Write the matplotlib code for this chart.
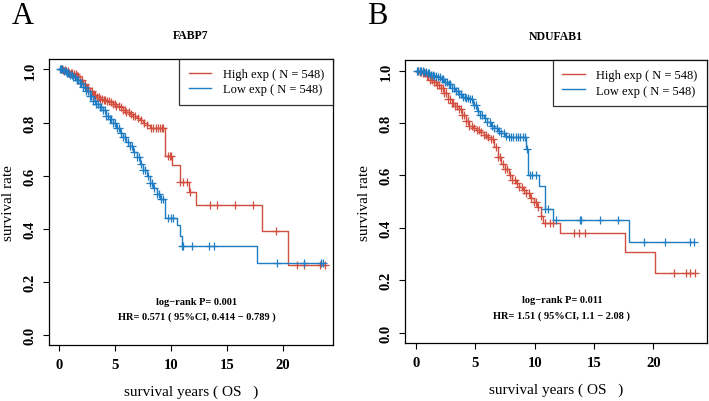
import matplotlib
matplotlib.use("Agg")
import matplotlib.pyplot as plt
import numpy as np

plt.rcParams['font.family'] = ['Liberation Serif', 'DejaVu Serif']

RED = '#d24f3f'
BLUE = '#1f7dc4'

# ---- Panel A : FABP7 ----
a_high_t = [0, 0.3, 0.6, 0.9, 1.2, 1.5, 1.8, 2.1, 2.4, 2.7, 3.0, 3.3, 3.6, 3.9, 4.2, 4.5,
            4.8, 5.1, 5.4, 5.7, 6.0, 6.3, 6.6, 6.9, 7.2, 7.5, 7.8, 8.1, 9.45, 10.1, 10.75,
            11.6, 12.2, 18.1, 20.45]
a_high_s = [1.0, 0.997, 0.993, 0.988, 0.982, 0.975, 0.962, 0.945, 0.93, 0.918, 0.905, 0.895,
            0.89, 0.886, 0.882, 0.877, 0.871, 0.864, 0.857, 0.848, 0.84, 0.833, 0.826, 0.818,
            0.81, 0.80, 0.792, 0.78, 0.672, 0.64, 0.574, 0.536, 0.487, 0.392, 0.262]
a_high_end = 23.8
a_high_cens = [0.1, 0.2, 0.35, 0.5, 0.6, 0.75, 0.9, 1.0, 1.15, 1.3, 1.45, 1.6, 1.7, 1.85, 2.0,
               2.15, 2.3, 2.45, 2.6, 2.75, 2.9, 3.05, 3.2, 3.35, 3.5, 3.65, 3.8, 3.95, 4.1, 4.3,
               4.45, 4.6, 4.8, 4.95, 5.1, 5.3, 5.5, 5.7, 5.85, 6.0, 6.2, 6.4, 6.6, 6.8, 7.0, 7.3,
               7.6, 7.8, 8.2, 8.4, 8.6, 8.8, 9.0, 9.2, 9.3, 9.7, 9.85, 10.0, 10.8, 11.1, 11.4,
               11.7, 13.5, 14.1, 15.7, 17.3, 19.4, 21.3, 21.9, 23.3, 23.8]

a_low_t = [0, 0.3, 0.6, 0.9, 1.2, 1.5, 1.8, 2.1, 2.4, 2.7, 3.0, 3.3, 3.6, 3.9, 4.2, 4.5, 4.8,
           5.1, 5.4, 5.7, 6.0, 6.3, 6.6, 6.9, 7.2, 7.5, 7.8, 8.1, 8.4, 8.7, 9.0, 9.45, 10.5,
           10.8, 10.95, 17.7]
a_low_s = [1.0, 0.995, 0.988, 0.98, 0.97, 0.96, 0.948, 0.933, 0.918, 0.90, 0.882, 0.868, 0.857,
           0.848, 0.825, 0.812, 0.797, 0.78, 0.762, 0.745, 0.728, 0.71, 0.69, 0.668, 0.645,
           0.62, 0.597, 0.573, 0.552, 0.532, 0.51, 0.44, 0.415, 0.37, 0.335, 0.27]
a_low_end = 23.6
a_low_cens = [0.05, 0.15, 0.25, 0.4, 0.55, 0.7, 0.8, 0.95, 1.1, 1.25, 1.4, 1.55, 1.7, 1.8, 1.95,
              2.1, 2.25, 2.4, 2.55, 2.7, 2.85, 3.0, 3.15, 3.3, 3.45, 3.6, 3.75, 3.9, 4.05, 4.2,
              4.35, 4.5, 4.65, 4.8, 5.0, 5.15, 5.3, 5.5, 5.7, 5.9, 6.1, 6.3, 6.5, 6.7, 6.9, 7.1,
              7.3, 7.5, 7.7, 7.9, 8.1, 8.3, 8.5, 8.7, 8.9, 9.1, 9.3, 9.7, 10.0, 10.2, 11.0,
              11.1, 11.9, 13.4, 13.8, 19.5, 21.9, 23.4, 23.6]

# ---- Panel B : NDUFAB1 ----
b_high_t = [0, 0.3, 0.6, 0.9, 1.2, 1.5, 1.8, 2.1, 2.4, 2.7, 3.0, 3.3, 3.6, 3.9, 4.2, 4.5, 4.8,
            5.1, 5.4, 5.7, 6.0, 6.3, 6.6, 6.9, 7.2, 7.5, 7.8, 8.1, 8.4, 8.7, 9.0, 9.3, 9.6,
            9.9, 10.2, 10.5, 10.7, 12.1, 17.6, 20.1]
b_high_s = [1.0, 0.996, 0.99, 0.98, 0.965, 0.955, 0.945, 0.933, 0.915, 0.89, 0.875, 0.865,
            0.855, 0.83, 0.806, 0.79, 0.782, 0.774, 0.766, 0.755, 0.745, 0.738, 0.71, 0.67,
            0.645, 0.625, 0.60, 0.583, 0.57, 0.555, 0.545, 0.532, 0.515, 0.50, 0.48, 0.445,
            0.42, 0.38, 0.307, 0.228]
b_high_end = 23.5
b_high_cens = [0.15, 0.3, 0.45, 0.6, 0.75, 0.9, 1.05, 1.2, 1.35, 1.5, 1.65, 1.8, 1.95, 2.1,
               2.25, 2.4, 2.55, 2.7, 2.85, 3.0, 3.15, 3.3, 3.45, 3.6, 3.75, 3.9, 4.05, 4.2,
               4.35, 4.5, 4.7, 4.9, 5.1, 5.3, 5.5, 5.7, 5.9, 6.1, 6.3, 6.5, 6.7, 6.9, 7.1, 7.3,
               7.5, 7.7, 7.9, 8.1, 8.3, 8.5, 8.7, 8.9, 9.1, 9.3, 9.5, 9.7, 9.9, 10.1, 10.3,
               10.5, 10.9, 11.3, 11.5, 13.3, 13.75, 14.2, 21.7, 22.7, 23.1, 23.5]

b_low_t = [0, 0.3, 0.6, 0.9, 1.2, 1.5, 1.8, 2.1, 2.4, 2.7, 3.0, 3.3, 3.6, 3.9, 4.2, 4.5, 4.8,
           5.1, 5.4, 5.7, 6.0, 6.3, 6.6, 6.9, 7.2, 7.5, 7.8, 8.1, 9.3, 9.45, 10.4, 10.85,
           11.5, 17.9]
b_low_s = [1.0, 0.998, 0.995, 0.99, 0.985, 0.98, 0.974, 0.966, 0.957, 0.947, 0.935, 0.923,
           0.91, 0.90, 0.895, 0.89, 0.87, 0.845, 0.83, 0.82, 0.805, 0.79, 0.78, 0.77, 0.76,
           0.752, 0.748, 0.745, 0.70, 0.60, 0.56, 0.47, 0.428, 0.346]
b_low_end = 23.4
b_low_cens = [0.05, 0.15, 0.3, 0.45, 0.55, 0.7, 0.85, 1.0, 1.1, 1.25, 1.4, 1.55, 1.7, 1.85,
              2.0, 2.15, 2.3, 2.45, 2.6, 2.75, 2.9, 3.05, 3.2, 3.35, 3.5, 3.65, 3.8, 3.95, 4.1,
              4.25, 4.4, 4.55, 4.7, 4.9, 5.05, 5.2, 5.4, 5.6, 5.8, 6.0, 6.2, 6.4, 6.6, 6.8,
              7.0, 7.2, 7.4, 7.6, 7.8, 8.0, 8.2, 8.4, 8.6, 8.8, 9.0, 9.2, 9.35, 9.6, 9.8, 10.1,
              10.9, 11.1, 11.8, 13.8, 13.9, 15.5, 17.0, 19.2, 21.0, 23.1, 23.4]

panels = [
    dict(letter='A', title='FABP7', rect=[0.069, 0.139, 0.401, 0.712],
         high=(a_high_t, a_high_s, a_high_end, a_high_cens),
         low=(a_low_t, a_low_s, a_low_end, a_low_cens),
         p='log\u2212rank P= 0.001', hr='HR= 0.571 ( 95%CI, 0.414 \u2212 0.789 )'),
    dict(letter='B', title='NDUFAB1', rect=[0.571, 0.144, 0.426, 0.704],
         high=(b_high_t, b_high_s, b_high_end, b_high_cens),
         low=(b_low_t, b_low_s, b_low_end, b_low_cens),
         p='log\u2212rank P= 0.011', hr='HR= 1.51 ( 95%CI, 1.1 \u2212 2.08 )'),
]

fig = plt.figure(figsize=(7.09, 4.02), dpi=100)


def draw_km(ax, t, s, end, cens, color, label):
    tt = list(t) + [end]
    ss = list(s) + [s[-1]]
    ax.step(tt, ss, where='post', color=color, lw=1.0, label=label)
    idx = np.searchsorted(np.array(t), np.array(cens), side='right') - 1
    cy = np.array(s)[idx]
    ax.plot(cens, cy, ls='none', marker='+', ms=6, mew=0.9, color=color)


for p in panels:
    ax = fig.add_axes(p['rect'])
    draw_km(ax, *p['high'], RED, 'High exp ( N = 548)')
    draw_km(ax, *p['low'], BLUE, 'Low exp ( N = 548)')
    ax.set_xlim(-0.94, 24.5)
    ax.set_ylim(-0.04, 1.04)
    ax.set_xticks([0, 5, 10, 15, 20])
    ax.set_yticks([0.0, 0.2, 0.4, 0.6, 0.8, 1.0])
    ax.set_yticklabels(['0.0', '0.2', '0.4', '0.6', '0.8', '1.0'], rotation=90, va='center')
    ax.tick_params(labelsize=10.5, length=4, width=0.8, pad=5)
    for lab in ax.get_xticklabels() + ax.get_yticklabels():
        lab.set_fontweight('bold')
    for sp in ax.spines.values():
        sp.set_linewidth(0.9)
    ax.set_xlabel('survival years ( OS   )', fontsize=11, labelpad=10)
    ax.set_ylabel('survival rate', fontsize=11, labelpad=6)
    ax.set_title(p['title'], fontsize=8.5, fontweight='bold', pad=15)
    leg = ax.legend(loc='upper right', borderaxespad=0, fancybox=False, fontsize=9,
                    handlelength=1.8, handletextpad=0.9, borderpad=0.75, labelspacing=0.25)
    leg.get_frame().set_edgecolor('black')
    leg.get_frame().set_linewidth(0.9)
    ax.text(0.52, 0.154, p['p'], transform=ax.transAxes, ha='center', va='center',
            fontsize=7.5, fontweight='bold')
    ax.text(0.52, 0.10, p['hr'], transform=ax.transAxes, ha='center', va='center',
            fontsize=7.5, fontweight='bold')
    x0 = p['rect'][0]
    fig.text(x0 - 0.053, 0.995, p['letter'], fontsize=22, va='top', ha='left')

fig.savefig('out.png', dpi=100)
